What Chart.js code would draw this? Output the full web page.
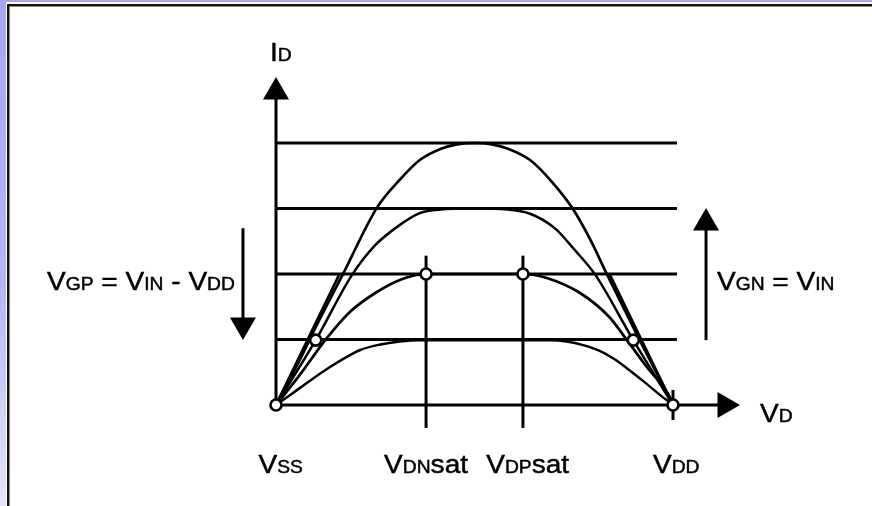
<!DOCTYPE html>
<html><head><meta charset="utf-8">
<script src="https://cdn.jsdelivr.net/npm/chart.js@4.4.1/dist/chart.umd.min.js"></script>
<style>html,body{margin:0;padding:0;background:#fff}canvas{display:block}</style>
</head><body>
<canvas id="c" width="872" height="506"></canvas>
<script>
// ---- values (volts on x, current levels on y) ----
const VSS = 0, VDN_SAT = 1.89, VDP_SAT = 3.11, VDD = 5;
const levels = [1, 2, 3, 4];
const gridEnd = 5.05;

const curve1X = [0, 0.30, 0.50, 0.84, 1.27, 1.56, 1.81, 2.07, 2.28, 2.50, 2.72, 2.93, 3.20, 3.48, 3.73, 3.96, 4.17, 4.58, 5.0];
const curve1Y = [0, 0.69, 1.19, 1.99, 3.01, 3.44, 3.74, 3.91, 3.98, 4.00, 3.98, 3.91, 3.74, 3.40, 3.01, 2.52, 1.99, 0.99, 0];

const curve2X = [0, 0.50, 0.96, 1.25, 1.56, 1.81, 2.07, 2.49, 2.91, 3.20, 3.51, 3.76, 4.02, 4.50, 5.0];
const curve2Y = [0, 0.99, 1.99, 2.44, 2.75, 2.93, 2.985, 3.00, 2.985, 2.92, 2.70, 2.37, 1.99, 0.99, 0];

const curve3X = [0, 0.30, 0.62, 0.93, 1.25, 1.56, 1.89, 3.11, 3.41, 3.83, 4.20, 4.42, 4.67, 4.96, 5.0];
const curve3Y = [0, 0.46, 0.99, 1.42, 1.71, 1.91, 2.00, 2.00, 1.94, 1.71, 1.34, 0.99, 0.58, 0.12, 0];

const curve4X = [0, 0.21, 0.45, 0.68, 0.87, 1.06, 1.30, 1.56, 1.80, 3.45, 3.66, 3.88, 4.07, 4.25, 4.41, 4.61, 4.82, 5.0];
const curve4Y = [0, 0.18, 0.39, 0.58, 0.72, 0.84, 0.92, 0.97, 0.99, 0.99, 0.97, 0.91, 0.83, 0.71, 0.57, 0.38, 0.17, 0];

const linLeftX = [0, 0.80],  linLeftY = [0, 2.0];
const linRightX = [4.20, 5], linRightY = [2.0, 0];

const markX = [VSS, 0.50, VDN_SAT, VDP_SAT, 4.50, VDD];
const markY = [0, 0.99, 2, 2, 0.99, 0];

const vLineTop = 2.28, vLineBottom = -0.35;
const vddTick = [-0.23, 0.23];
const yAxisTop = 4.7, yArrow = 4.78;
const xAxisEnd = 5.6, xArrow = 5.655;
const gpX = -0.416, gpTop = 2.70, gpEnd = 1.30, gpArrow = 1.22;
const gnX = 5.416, gnBottom = 0.99, gnEnd = 2.70, gnArrow = 2.78;

// ---- helpers ----
const pts = (xs, ys) => xs.map((x, i) => ({x, y: ys[i]}));
const BLACK = '#000';
function lineDs(data, width, extra) {
  return Object.assign({data, showLine: true, borderColor: BLACK, borderWidth: width,
    pointRadius: 0, pointHoverRadius: 0, fill: false, order: 5}, extra || {});
}
function arrowDs(x, y, rot) {
  return {data: [{x, y}], showLine: false, pointStyle: 'triangle', rotation: rot,
    pointRadius: 15, pointHoverRadius: 15, backgroundColor: BLACK, borderColor: BLACK,
    borderWidth: 0, order: 2};
}

const datasets = [];
datasets.push({data: pts(markX, markY), showLine: false, pointStyle: 'circle', pointRadius: 5.5,
  pointHoverRadius: 5.5, backgroundColor: '#fff', borderColor: BLACK, borderWidth: 2.6, order: 0});
datasets.push(arrowDs(0, yArrow, 0));
datasets.push(arrowDs(xArrow, 0, 90));
datasets.push(arrowDs(gpX, gpArrow, 180));
datasets.push(arrowDs(gnX, gnArrow, 0));
datasets.push(lineDs(pts(curve1X, curve1Y), 2.7, {cubicInterpolationMode: 'monotone', order: 3}));
datasets.push(lineDs(pts(curve2X, curve2Y), 2.5, {cubicInterpolationMode: 'monotone', order: 3}));
datasets.push(lineDs(pts(curve3X, curve3Y), 2.7, {cubicInterpolationMode: 'monotone', order: 3}));
datasets.push(lineDs(pts(curve4X, curve4Y), 2.5, {cubicInterpolationMode: 'monotone', order: 3}));
datasets.push(lineDs(pts(linLeftX, linLeftY), 2.8, {order: 3}));
datasets.push(lineDs(pts(linRightX, linRightY), 2.8, {order: 3}));
levels.forEach(l => datasets.push(lineDs([{x: VSS, y: l}, {x: gridEnd, y: l}], 3)));
datasets.push(lineDs([{x: 0, y: 0}, {x: 0, y: yAxisTop}], 3));
datasets.push(lineDs([{x: 0, y: 0}, {x: xAxisEnd, y: 0}], 3));
datasets.push(lineDs([{x: VDN_SAT, y: vLineBottom}, {x: VDN_SAT, y: vLineTop}], 3));
datasets.push(lineDs([{x: VDP_SAT, y: vLineBottom}, {x: VDP_SAT, y: vLineTop}], 3));
datasets.push(lineDs([{x: VDD, y: vddTick[0]}, {x: VDD, y: vddTick[1]}], 3));
datasets.push(lineDs([{x: gpX, y: gpTop}, {x: gpX, y: gpEnd}], 3));
datasets.push(lineDs([{x: gnX, y: gnBottom}, {x: gnX, y: gnEnd}], 3));

// ---- text labels (main letters + small-cap subscripts) ----
const BIG = 25.5, SMALL = 17.5, STRETCH = 1.1;
const labels = [
  {parts: [['I', BIG], ['D', SMALL]], x: -0.076, y: 5.25, align: 'left'},
  {parts: [['V', BIG], ['D', SMALL]], x: 6.096, y: -0.26, align: 'left'},
  {parts: [['V', BIG], ['SS', SMALL]], x: VSS + 0.06, y: -1.04, align: 'center'},
  {parts: [['V', BIG], ['DN', SMALL], ['sat', BIG]], x: VDN_SAT, y: -1.04, align: 'center'},
  {parts: [['V', BIG], ['DP', SMALL], ['sat', BIG]], x: VDP_SAT + 0.06, y: -1.04, align: 'center'},
  {parts: [['V', BIG], ['DD', SMALL]], x: VDD + 0.04, y: -1.04, align: 'center'},
  {parts: [['V', BIG], ['GP', SMALL], [' = ', BIG], ['V', BIG], ['IN', SMALL], [' - ', BIG], ['V', BIG], ['DD', SMALL]], x: -2.884, y: 1.756, align: 'left'},
  {parts: [['V', BIG], ['GN', SMALL], [' = ', BIG], ['V', BIG], ['IN', SMALL]], x: 5.554, y: 1.756, align: 'left'}
];
const FONT = '"Liberation Sans", Arial, sans-serif';

const framePlugin = {
  id: 'frame',
  beforeDraw(chart) {
    const ctx = chart.ctx, W = chart.width, H = chart.height;
    ctx.save();
    ctx.fillStyle = '#fff';
    ctx.fillRect(0, 0, W, H);
    const g = ctx.createLinearGradient(0, 0, 0, H);
    g.addColorStop(0, '#a6a6f4');
    g.addColorStop(0.55, '#b4b4f6');
    g.addColorStop(1, '#e4e4fb');
    ctx.fillStyle = g;
    ctx.fillRect(0, 0, 6, H);
    ctx.fillStyle = '#a6a6f4';
    ctx.fillRect(0, 0, W, 2);
    ctx.fillStyle = '#111';
    ctx.fillRect(7, 4, 2, H - 4);
    ctx.fillRect(7, 4, W - 7, 2);
    ctx.fillStyle = '#8a8a8a';
    ctx.fillRect(9, 6, 1, H - 6);
    ctx.fillRect(9, 6, W - 9, 1);
    ctx.restore();
  }
};

const textPlugin = {
  id: 'texts',
  afterDraw(chart) {
    const ctx = chart.ctx, xs = chart.scales.x, ys = chart.scales.y;
    ctx.save();
    ctx.fillStyle = '#000';
    ctx.strokeStyle = '#000';
    ctx.lineWidth = 0.45;
    ctx.textBaseline = 'alphabetic';
    ctx.textAlign = 'left';
    labels.forEach(lb => {
      let total = 0;
      const widths = lb.parts.map(([t, s]) => { ctx.font = s + 'px ' + FONT; const w = ctx.measureText(t).width * STRETCH; total += w; return w; });
      let px = xs.getPixelForValue(lb.x);
      if (lb.align === 'center') px -= total / 2;
      const py = ys.getPixelForValue(lb.y);
      lb.parts.forEach(([t, s], i) => {
        ctx.font = s + 'px ' + FONT;
        ctx.save();
        ctx.translate(px, py);
        ctx.scale(STRETCH, 1);
        ctx.fillText(t, 0, 0);
        ctx.strokeText(t, 0, 0);
        ctx.restore();
        px += widths[i];
      });
    });
    ctx.restore();
  }
};

const X_PER_PX = 1 / 79.4, Y_PER_PX = 1 / 65.5;
new Chart(document.getElementById('c'), {
  type: 'scatter',
  data: {datasets},
  options: {
    responsive: false,
    animation: false,
    devicePixelRatio: 1,
    layout: {padding: 0, autoPadding: false},
    plugins: {legend: {display: false}, tooltip: {enabled: false}},
    events: [],
    scales: {
      x: {type: 'linear', display: false, min: -276 * X_PER_PX, max: (872 - 276) * X_PER_PX},
      y: {type: 'linear', display: false, min: -(506 - 405) * Y_PER_PX, max: 405 * Y_PER_PX}
    }
  },
  plugins: [framePlugin, textPlugin]
});
</script>
</body></html>
